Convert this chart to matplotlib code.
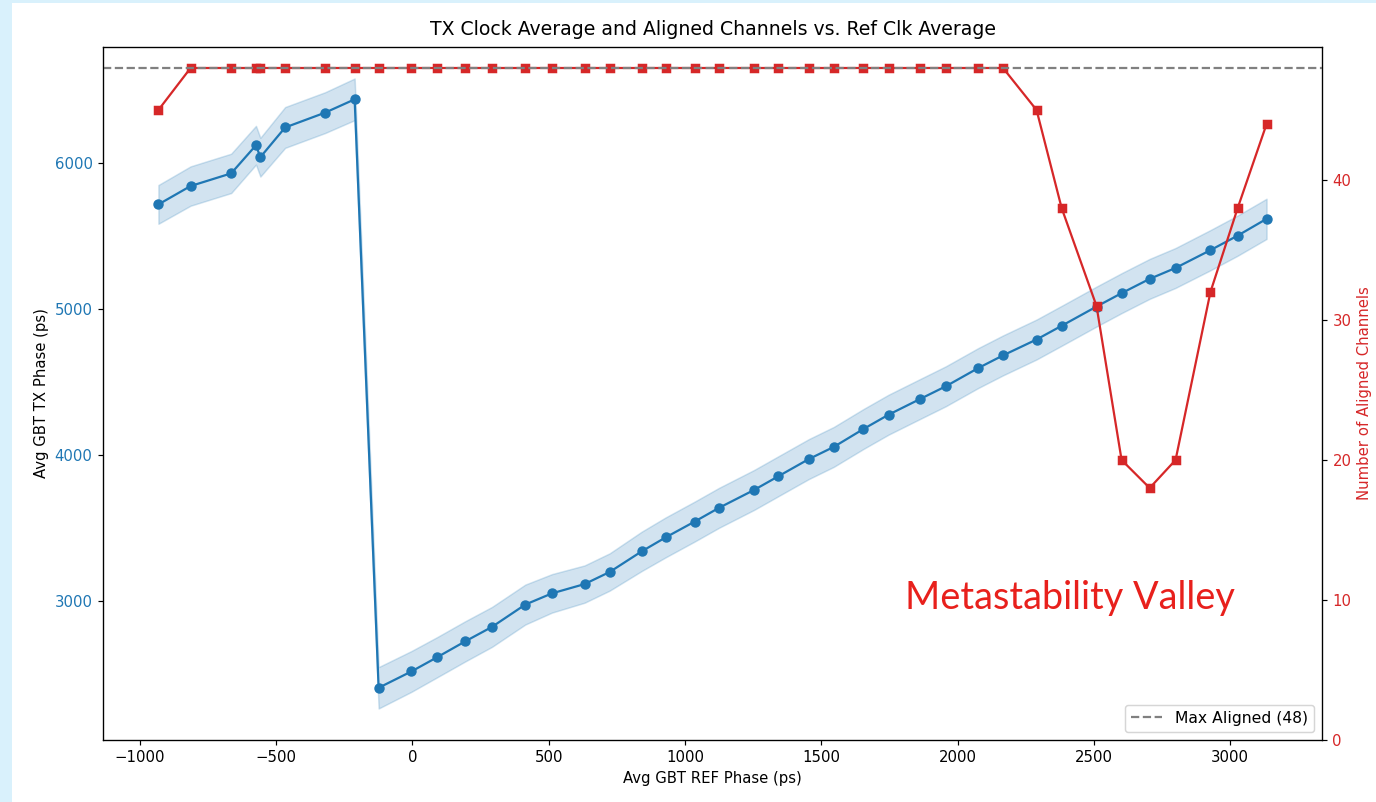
import numpy as np
import matplotlib
matplotlib.use('Agg')
import matplotlib.pyplot as plt
from matplotlib.patches import Rectangle

# averaged REF phase per scan step (ps)
ref_phase = [-932, -814, -665, -574, -558, -467, -320, -212,
             -124, -4, 89, 194, 292, 414, 512, 632, 724, 841, 929, 1036,
             1125, 1254, 1343, 1454, 1546, 1655, 1747, 1863, 1957, 2076,
             2167, 2290, 2382, 2510, 2602, 2705, 2800, 2928, 3028, 3134]

# averaged TX phase (ps) and its spread
tx_phase = [5719, 5845, 5932, 6125, 6043, 6247, 6349, 6440,
            2402, 2514, 2610, 2721, 2820, 2973, 3050, 3114, 3197, 3338, 3434, 3543,
            3637, 3760, 3854, 3971, 4055, 4178, 4276, 4384, 4471, 4596,
            4683, 4792, 4886, 5018, 5110, 5208, 5283, 5405, 5505, 5620]
tx_std = [133, 135, 135, 133, 133, 140, 140, 143,
          142, 140, 138, 138, 137, 137, 132, 128, 128, 135, 137, 137,
          137, 137, 137, 137, 137, 137, 137, 137, 137, 137,
          137, 137, 137, 137, 137, 137, 137, 138, 138, 138]

# number of aligned channels per step
aligned = [45, 48, 48, 48, 48, 48, 48, 48,
           48, 48, 48, 48, 48, 48, 48, 48, 48, 48, 48, 48,
           48, 48, 48, 48, 48, 48, 48, 48, 48, 48,
           48, 45, 38, 31, 20, 18, 20, 32, 38, 44]
max_aligned = 48

W, H, DPI = 1376, 802, 107
fig, ax1 = plt.subplots(figsize=(W / DPI, H / DPI), dpi=DPI)
fig.patch.set_facecolor('#d9f1fc')
fig.add_artist(Rectangle((12 / W, 0), 1 - 12 / W, 1 - 3 / H, transform=fig.transFigure,
                         facecolor='white', edgecolor='none', zorder=-1))
fig.subplots_adjust(left=103 / W, right=1322 / W, top=1 - 47 / H, bottom=1 - 740 / H)

x = np.array(ref_phase)
y = np.array(tx_phase)
s = np.array(tx_std)

ax1.plot(x, y, 'o-', color='tab:blue')
ax1.fill_between(x, y - s, y + s, color='tab:blue', alpha=0.2)
ax1.set_xlabel('Avg GBT REF Phase (ps)')
ax1.set_ylabel('Avg GBT TX Phase (ps)')
ax1.tick_params(axis='y', labelcolor='tab:blue')

ax2 = ax1.twinx()
ax2.plot(x, aligned, 's-', color='tab:red')
ax2.axhline(max_aligned, color='gray', linestyle='--', label=f'Max Aligned ({max_aligned})')
ax2.set_ylabel('Number of Aligned Channels', color='tab:red')
ax2.tick_params(axis='y', labelcolor='tab:red')
ax2.set_ylim(bottom=0)
ax2.legend(loc='lower right', fontsize=10.5)

ax1.set_title('TX Clock Average and Aligned Channels vs. Ref Clk Average', fontsize=12.7, pad=8)

fig.text(905 / W, 1 - 598 / H, 'Metastability Valley', color='#e8201c',
         fontsize=25.5, family='Lato', va='center', ha='left')

fig.savefig('out.png', dpi=DPI, facecolor=fig.get_facecolor())
